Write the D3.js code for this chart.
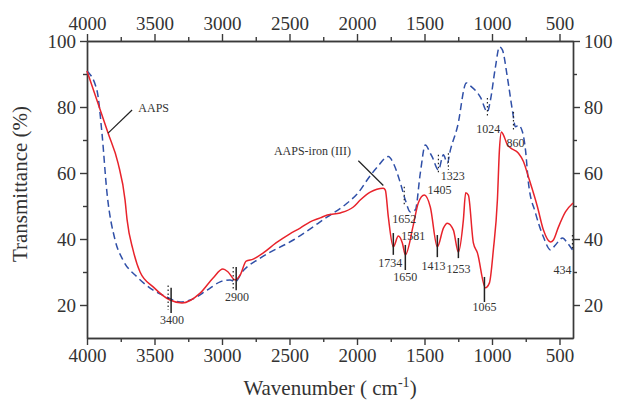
<!DOCTYPE html>
<html>
<head>
<meta charset="utf-8">
<script src="https://cdn.jsdelivr.net/npm/d3@7"></script>
<style>
  body { margin: 0; background: #fff; }
  svg text { font-family: "Liberation Serif", "DejaVu Serif", serif; fill: #333; }
  .axis path, .axis line { stroke: #3a3a3a; stroke-width: 1.4; }
  .axis text { font-size: 19px; }
  .peak { font-size: 12px; }
</style>
</head>
<body>
<svg id="chart" width="619" height="404"></svg>
<script>
// ---------------------------------------------------------------
// DATA
// ---------------------------------------------------------------
const aapsWave = [4000, 3844, 3770, 3718, 3703, 3659, 3607, 3510, 3385, 3296, 3162, 3066, 2993, 2955,
  2903, 2865, 2821, 2769, 2694, 2600, 2500, 2421, 2347, 2272, 2220, 2124, 2027, 1976, 1902, 1805,
  1790, 1768, 1731, 1694, 1664, 1642, 1583, 1546, 1501, 1457, 1405, 1360, 1331, 1286, 1249, 1212,
  1195, 1175, 1138, 1108, 1049, 1019, 990, 960, 945, 930, 915, 886, 863, 804, 767, 730, 663, 619,
  567, 545, 508, 456, 400];
const aapsT = [90.9, 72.1, 63, 51.8, 45.8, 36.7, 30, 25.5, 21.5, 20.6, 23.6, 28.2, 30.9, 30,
  27.6, 29.1, 33.3, 33.9, 35.8, 38.8, 41.5, 43.3, 45.2, 46.4, 47.3, 47.9, 49.7, 51.8, 54.2, 55.4,
  54.8, 46.7, 37.6, 40.9, 38.8, 35.2, 44.2, 50.9, 53.3, 49.7, 37.6, 43.3, 44.8, 42.7, 36, 45.8,
  54, 53.3, 38.8, 35.8, 25.2, 26.7, 36.7, 51.8, 67, 72.4, 71.5, 68.5, 67.6, 66, 63.5, 58.8, 49.7, 42.7,
  39.1, 39.7, 43.6, 48.2, 50.9];

const ironWave = [4000, 3926, 3889, 3852, 3792, 3733, 3629, 3510, 3407, 3310, 3236, 3110, 3014, 2940,
  2903, 2851, 2717, 2472, 2220, 2072, 1976, 1940, 1850, 1768, 1731, 1679, 1642, 1605, 1568, 1531,
  1494, 1457, 1442, 1397, 1360, 1331, 1308, 1256, 1190, 1160, 1086, 1034, 1012, 975, 945, 923, 886,
  849, 826, 804, 774, 752, 730, 678, 619, 567, 530, 478, 441, 404];
const ironT = [90.9, 85, 72, 54, 39.7, 33.6, 28.5, 24.5, 22.4, 20.9, 21.5, 24.5, 27, 27.6,
  27, 30, 34.2, 39.7, 46.7, 50.9, 54.8, 57, 61.8, 65, 63, 57, 51.8, 48.2, 48.8, 60,
  68.5, 66, 64.8, 60.9, 65.5, 63, 67, 74, 87.3, 86.4, 83, 78.5, 82, 92, 98.2, 97.3, 89,
  79, 74, 74.5, 72.4, 67, 57, 47.9, 40.6, 36.7, 38.2, 40.3, 38.8, 36.7];

// peak annotations: label text, label wavenumber, label T
const peakLabels = ["3400", "2900", "1734", "1650", "1581", "1652", "1413", "1253", "1405", "1323",
  "1065", "1024", "860", "434"];
const peakLabelWave = [3370, 2888, 1753, 1642, 1583, 1650, 1434, 1249, 1388, 1290, 1056, 1027, 826, 478];
const peakLabelT = [15.5, 22.4, 32.7, 28.5, 40.9, 46.1, 31.8, 30.9, 55, 59.2, 19.4, 73.3, 69.1, 30.6];

// solid marker lines (AAPS): wavenumber, T top, T bottom
const solidWave = [3377, 2895, 1731, 1642, 1405, 1249, 1056];
const solidTop = [25.2, 31.5, 41.8, 38.2, 41.2, 40.3, 28.5];
const solidBottom = [17.6, 24.5, 35.2, 30.6, 34.5, 34.2, 20.9];

// dotted marker lines (AAPS-iron (III))
const dotWave = [3399, 2917, 1650, 1397, 1323, 1034, 841, 404];
const dotTop = [25.9, 31.5, 55.8, 65.5, 66, 82.7, 78.5, 41.2];
const dotBottom = [18.5, 24.5, 50.3, 60, 60.9, 76.7, 73, 36.7];

// ---------------------------------------------------------------
// SCALES AND AXES
// ---------------------------------------------------------------
const svg = d3.select("#chart");
const x = d3.scaleLinear().domain([4000, 400]).range([87, 573]);
const y = d3.scaleLinear().domain([10, 100]).range([338, 41]);

const xMajor = [4000, 3500, 3000, 2500, 2000, 1500, 1000, 500];
const xMinor = [3750, 3250, 2750, 2250, 1750, 1250, 750];
const yMajor = [20, 40, 60, 80, 100];
const yMinor = [30, 50, 70, 90];

function addAxis(axisFn, transform, major, minor) {
    const g = svg.append("g").attr("class", "axis").attr("transform", transform);
    g.call(axisFn.tickValues(major).tickSize(7).tickSizeOuter(0).tickPadding(4).tickFormat(d3.format("d")));
    svg.append("g").attr("class", "axis").attr("transform", transform)
        .call(axisFn.tickValues(minor).tickSize(4).tickFormat("").tickSizeOuter(0));
    return g;
}

addAxis(d3.axisBottom(x), "translate(0,338)", xMajor, xMinor);
addAxis(d3.axisTop(x), "translate(0,41)", xMajor, xMinor);
addAxis(d3.axisLeft(y), "translate(87,0)", yMajor, yMinor);
addAxis(d3.axisRight(y), "translate(573,0)", yMajor, yMinor);

// axis titles
svg.append("text")
    .attr("transform", "translate(27,184) rotate(-90)")
    .attr("text-anchor", "middle")
    .style("font-size", "21px")
    .text("Transmittance (%)");

const xt = svg.append("text")
    .attr("x", 330).attr("y", 395)
    .attr("text-anchor", "middle")
    .style("font-size", "21px");
xt.append("tspan").text("Wavenumber ( cm");
xt.append("tspan").attr("dy", -8).style("font-size", "14px").text("-1");
xt.append("tspan").attr("dy", 8).text(")");

// ---------------------------------------------------------------
// SPECTRA
// ---------------------------------------------------------------
const line = d3.line()
    .x(d => x(d[0]))
    .y(d => y(d[1]))
    .curve(d3.curveMonotoneX);

const plot = svg.append("g");

plot.append("path")
    .datum(ironWave.map((w, i) => [w, ironT[i]]))
    .attr("d", line)
    .attr("fill", "none")
    .attr("stroke", "#3050a8")
    .attr("stroke-width", 1.5)
    .attr("stroke-dasharray", "7,4");

plot.append("path")
    .datum(aapsWave.map((w, i) => [w, aapsT[i]]))
    .attr("d", line)
    .attr("fill", "none")
    .attr("stroke", "#e8232b")
    .attr("stroke-width", 1.5);

// marker lines
plot.selectAll(".solid").data(solidWave).join("line")
    .attr("x1", d => x(d)).attr("x2", d => x(d))
    .attr("y1", (d, i) => y(solidTop[i])).attr("y2", (d, i) => y(solidBottom[i]))
    .attr("stroke", "#222").attr("stroke-width", 1.5);

plot.selectAll(".dot").data(dotWave).join("line")
    .attr("x1", d => x(d)).attr("x2", d => x(d))
    .attr("y1", (d, i) => y(dotTop[i])).attr("y2", (d, i) => y(dotBottom[i]))
    .attr("stroke", "#222").attr("stroke-width", 1.2)
    .attr("stroke-dasharray", "1.5,2.5");

plot.selectAll(".peak").data(peakLabels).join("text")
    .attr("class", "peak")
    .attr("x", (d, i) => x(peakLabelWave[i]))
    .attr("y", (d, i) => y(peakLabelT[i]))
    .attr("dy", "0.35em")
    .attr("text-anchor", "middle")
    .text(d => d);

// series labels with leader lines
svg.append("text").attr("class", "peak").attr("x", x(3620)).attr("y", y(78.5)).text("AAPS");
svg.append("line")
    .attr("x1", x(3666)).attr("y1", y(79.1)).attr("x2", x(3844)).attr("y2", y(72.1))
    .attr("stroke", "#222").attr("stroke-width", 1.2);

svg.append("text").attr("class", "peak").attr("x", x(2330)).attr("y", y(65.5))
    .attr("text-anchor", "middle").text("AAPS-iron (III)");
svg.append("line")
    .attr("x1", x(1990)).attr("y1", y(63.7)).attr("x2", x(1805)).attr("y2", y(56.2))
    .attr("stroke", "#222").attr("stroke-width", 1.2);
</script>
</body>
</html>
